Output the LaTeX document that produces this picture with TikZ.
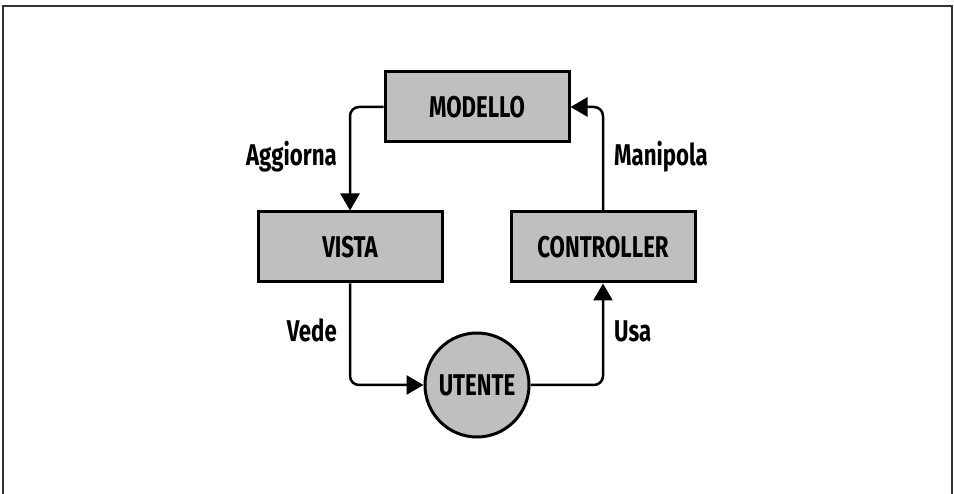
\documentclass[tikz,border=0pt]{standalone}
\usepackage{fontspec}
\setmainfont{Fira Sans}[FakeStretch=0.74,UprightFont=* Bold]
\usetikzlibrary{arrows.meta}
\definecolor{boxfill}{RGB}{191,191,191}
\begin{document}
\begin{tikzpicture}[x=1pt,y=-1pt,
  box/.style={draw=black,line width=3pt,fill=boxfill,minimum width=184pt,minimum height=70pt,inner sep=0pt,font=\fontsize{30}{30}\selectfont},
  circ/.style={draw=black,line width=3pt,fill=boxfill,circle,minimum size=104pt,inner sep=0pt,font=\fontsize{30}{30}\selectfont},
  lbl/.style={font=\fontsize{30}{30}\selectfont,inner sep=0pt},
  conn/.style={line width=2.5pt,rounded corners=9pt,-{Triangle[length=17pt,width=19pt]}}]
\useasboundingbox (0,0) rectangle (954,494);
\draw[line width=2pt,black!80] (3,494) -- (3,6) -- (952,6) -- (952,494);
\node[box] (mod) at (477,107) {MODELLO};
\node[box] (vis) at (350,247) {VISTA};
\node[box] (con) at (603,247) {CONTROLLER};
\node[circ] (ute) at (477,385) {UTENTE};
\draw[conn] (mod.west) -| (vis.north);
\draw[conn] (vis.south) |- (ute.west);
\draw[conn] (ute.east) -| (con.south);
\draw[conn] (con.north) |- (mod.east);
\node[lbl,anchor=base east] (l1) at (337,166) {Aggiorna};
\node[lbl,anchor=base west] (l2) at (614,166) {Manipola};
\node[lbl,anchor=base east] (l3) at (337,342) {Vede};
\node[lbl,anchor=base west] (l4) at (614,342) {Usa};
\end{tikzpicture}
\end{document}
